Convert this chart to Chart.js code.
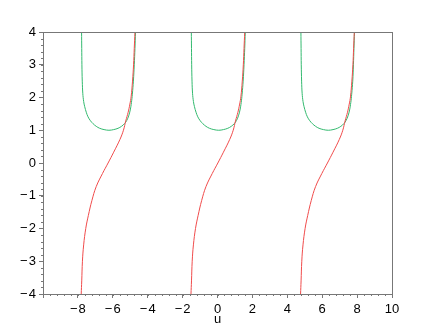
<!DOCTYPE html>
<html>
<head>
<meta charset="utf-8">
<script src="https://cdn.jsdelivr.net/npm/chart.js@4"></script>
<style>
  html, body { margin: 0; padding: 0; background: #fff; }
  #wrap { width: 435px; height: 327px; }
</style>
</head>
<body>
<div id="wrap"><canvas id="c" width="435" height="327"></canvas></div>
<script>
// values, one branch at a time
const redU1 = [-7.81, -7.78, -7.74, -7.67, -7.55, -7.40, -7.20, -6.95, -6.59, -6.27, -5.95, -5.59, -5.39, -5.26, -5.12, -5.02, -4.95, -4.87, -4.81, -4.77, -4.73];
const redU2 = [-1.52, -1.49, -1.45, -1.38, -1.26, -1.11, -0.91, -0.66, -0.30, 0.02, 0.34, 0.70, 0.90, 1.03, 1.17, 1.27, 1.34, 1.42, 1.48, 1.52, 1.56];
const redU3 = [4.76, 4.79, 4.83, 4.90, 5.02, 5.17, 5.37, 5.62, 5.98, 6.30, 6.62, 6.98, 7.18, 7.31, 7.45, 7.55, 7.62, 7.70, 7.76, 7.80, 7.84];
const redY = [-4, -3.6, -3.0, -2.5, -2.0, -1.6, -1.15, -0.72, -0.32, 0, 0.33, 0.72, 1.0, 1.28, 1.55, 1.8, 2.02, 2.5, 3.0, 3.5, 4];

const greenU1 = [-7.79, -7.78, -7.77, -7.75, -7.72, -7.67, -7.61, -7.52, -7.42, -7.28, -7.13, -6.95, -6.75, -6.5, -6.22,
    -5.95, -5.7, -5.5, -5.33, -5.2, -5.09, -5.0, -4.93, -4.88, -4.82, -4.77, -4.73, -4.70];
const greenU2 = [-1.50, -1.49, -1.48, -1.46, -1.43, -1.38, -1.32, -1.23, -1.13, -0.99, -0.84, -0.66, -0.46, -0.21, 0.07,
    0.34, 0.59, 0.79, 0.96, 1.09, 1.20, 1.29, 1.36, 1.41, 1.47, 1.52, 1.56, 1.59];
const greenU3 = [4.78, 4.79, 4.80, 4.82, 4.85, 4.90, 4.96, 5.05, 5.15, 5.29, 5.44, 5.62, 5.82, 6.07, 6.35,
    6.62, 6.87, 7.07, 7.24, 7.37, 7.48, 7.57, 7.64, 7.69, 7.75, 7.79, 7.82, 7.85];
const greenY = [4, 3.5, 3.0, 2.5, 2.13, 1.88, 1.72, 1.55, 1.41, 1.29, 1.2, 1.12, 1.06, 1.02, 1.0,
    1.02, 1.06, 1.12, 1.2, 1.3, 1.44, 1.62, 1.85, 2.1, 2.5, 3.0, 3.5, 4];

const xMin = -10, xMax = 10, xStep = 2, xMinorStep = 0.4;
const yMin = -4, yMax = 4, yStep = 1, yMinorStep = 0.2;

const RED = 'rgb(240, 75, 75)';
const GREEN = 'rgb(50, 185, 110)';
const AXIS = '#777';
const FONT = "'Liberation Sans', Arial, Helvetica, sans-serif";

const toPoints = (us, ys) => us.map((u, i) => ({ x: u, y: ys[i] }));
const minusLabel = (v) => (v < 0 ? '\u2212\u200a' + Math.abs(v) : String(v));

const branch = (us, ys, color) => ({
    data: toPoints(us, ys),
    borderColor: color,
    borderWidth: 1,
    pointRadius: 0,
    fill: false,
    tension: 0.4,
});

// box around the plot plus the small minor ticks
const framePlugin = {
    id: 'frame',
    afterDraw(chart) {
        const { ctx, chartArea: a, scales } = chart;
        ctx.save();
        ctx.strokeStyle = AXIS;
        ctx.lineWidth = 1;
        ctx.strokeRect(Math.round(a.left) + 0.5, Math.round(a.top) + 0.5,
            Math.round(a.right - a.left), Math.round(a.bottom - a.top));
        ctx.beginPath();
        for (let v = xMin; v <= xMax + 1e-9; v += xMinorStep) {
            const px = Math.round(scales.x.getPixelForValue(v)) + 0.5;
            ctx.moveTo(px, a.bottom);
            ctx.lineTo(px, a.bottom + 2);
        }
        for (let v = yMin; v <= yMax + 1e-9; v += yMinorStep) {
            const py = Math.round(scales.y.getPixelForValue(v)) + 0.5;
            ctx.moveTo(a.left - 2, py);
            ctx.lineTo(a.left, py);
        }
        ctx.stroke();
        ctx.restore();
    },
};

new Chart(document.getElementById('c'), {
    type: 'line',
    data: {
        datasets: [
            branch(redU1, redY, RED),
            branch(redU2, redY, RED),
            branch(redU3, redY, RED),
            branch(greenU1, greenY, GREEN),
            branch(greenU2, greenY, GREEN),
            branch(greenU3, greenY, GREEN),
        ],
    },
    options: {
        responsive: false,
        animation: false,
        layout: { padding: { top: 32, right: 43, left: 0, bottom: 0 } },
        plugins: {
            legend: { display: false },
            tooltip: { enabled: false },
        },
        scales: {
            x: {
                type: 'linear',
                min: xMin,
                max: xMax,
                afterFit: (s) => { s.height = 33; },
                grid: { drawOnChartArea: false, tickLength: 4, tickColor: AXIS },
                border: { color: AXIS },
                ticks: {
                    stepSize: xStep,
                    padding: 4,
                    color: '#000',
                    maxRotation: 0,
                    font: { family: FONT, size: 13 },
                    callback: (v) => (v === xMin ? '' : minusLabel(v)),
                },
                title: {
                    display: true,
                    text: 'u',
                    color: '#000',
                    padding: { top: 0, bottom: 0 },
                    font: { family: FONT, size: 13 },
                },
            },
            y: {
                type: 'linear',
                min: yMin,
                max: yMax,
                afterFit: (s) => { s.width = 43; },
                grid: { drawOnChartArea: false, tickLength: 4, tickColor: AXIS },
                border: { color: AXIS },
                ticks: {
                    stepSize: yStep,
                    padding: 3,
                    color: '#000',
                    font: { family: FONT, size: 13 },
                    callback: minusLabel,
                },
            },
        },
    },
    plugins: [framePlugin],
});
</script>
</body>
</html>
